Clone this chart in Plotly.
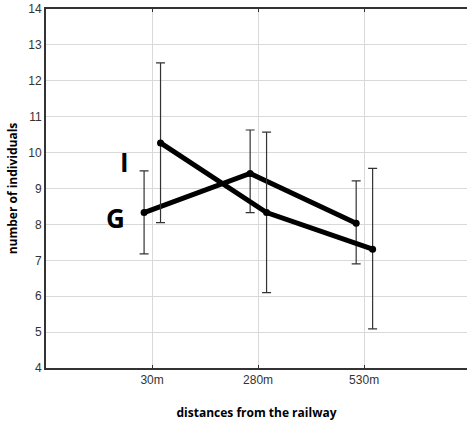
import plotly.graph_objects as go

categories = ["30m", "280m", "530m"]
g_mean = [8.33, 9.42, 8.03]
g_upper = [9.49, 10.63, 9.21]
g_lower = [7.18, 8.33, 6.90]
i_mean = [10.27, 8.33, 7.31]
i_upper = [12.5, 10.57, 9.56]
i_lower = [8.05, 6.10, 5.09]
y_ticks = list(range(4, 15))

base_x = [k + 1 for k in range(len(categories))]

def series(name, mean, upper, lower, offset):
    xs = [b + offset for b in base_x]
    return go.Scatter(
        x=xs, y=mean, name=name, mode="lines+markers",
        line=dict(color="black", width=5),
        marker=dict(color="black", size=7),
        error_y=dict(type="data", symmetric=False,
                     array=[u - m for u, m in zip(upper, mean)],
                     arrayminus=[m - l for m, l in zip(mean, lower)],
                     color="#333333", thickness=1.2, width=4.5),
        showlegend=False,
    )

fig = go.Figure()
fig.add_trace(series("G", g_mean, g_upper, g_lower, -0.075))
fig.add_trace(series("I", i_mean, i_upper, i_lower, 0.08))

fig.add_annotation(x=0.736, y=9.74, text="<b>I</b>", showarrow=False,
                   font=dict(family="Open Sans", size=26, color="black"))
fig.add_annotation(x=0.66, y=8.18, text="<b>G</b>", showarrow=False,
                   font=dict(family="Open Sans", size=26, color="black"))

fig.update_layout(
    width=467, height=426,
    margin=dict(l=46, r=0, t=9, b=58),
    plot_bgcolor="white", paper_bgcolor="white",
    font=dict(family="Liberation Sans", size=12, color="#333333"),
)
fig.update_xaxes(
    range=[0, 3.97], tickvals=base_x, ticktext=categories,
    showgrid=True, gridcolor="#d9d9d9", gridwidth=1,
    showline=True, linecolor="#333333", linewidth=2, mirror="ticks",
    ticks="inside", ticklen=3, tickcolor="#333333",
    zeroline=False,
    title=dict(text="<b>distances from the railway</b>",
               font=dict(family="Open Sans", size=12, color="black"), standoff=22),
)
fig.update_yaxes(
    range=[4, 14], tickvals=y_ticks,
    showgrid=True, gridcolor="#d9d9d9", gridwidth=1,
    showline=True, linecolor="#333333", linewidth=2,
    ticks="", zeroline=False,
    title=dict(text="<b>number of individuals</b>",
               font=dict(family="Open Sans", size=12, color="black"), standoff=8),
)

fig.write_html("out.html", config={"displayModeBar": False},
               post_script="document.body.style.margin='0px';document.body.style.overflow='hidden';")
